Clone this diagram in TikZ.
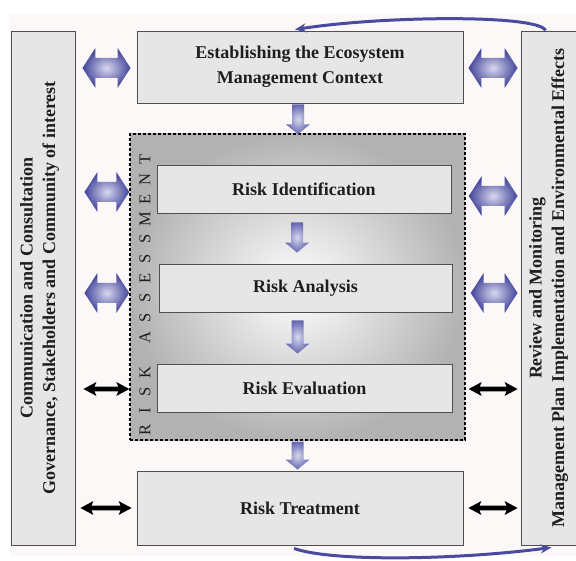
\documentclass[tikz,border=0pt]{standalone}
\usepackage{fontspec}
\setmainfont{Liberation Serif}
\usetikzlibrary{calc,arrows.meta}
\definecolor{boxfill}{HTML}{E6E6E6}
\definecolor{boxline}{HTML}{505050}
\definecolor{pdark}{HTML}{42449A}
\definecolor{plight}{HTML}{D8D8EE}
\definecolor{pmid}{HTML}{6466B0}
\definecolor{pcurve}{HTML}{4A4AA0}
\definecolor{bg}{HTML}{FCF8F8}
\definecolor{txt}{HTML}{1E1E1E}
\tikzset{
  box/.style={draw=boxline, line width=0.9pt, fill=boxfill, text=txt, font=\fontsize{18}{25}\selectfont\bfseries, align=center, inner sep=0pt},
  sidetext/.style={rotate=90, align=center, text=txt, font=\fontsize{18}{22.5}\selectfont\bfseries},
  fatshade/.style={shading=radial, inner color=plight, outer color=pdark},
  downshade/.style={shading=radial, inner color=plight, outer color=pmid},
  blackfill/.style={fill=black},
  curvearrow/.style={-{Stealth[length=11pt,width=9pt]}, line width=3pt, pcurve},
  letter/.style={rotate=90, font=\fontsize{16.5}{16.5}\selectfont, text=txt, inner sep=0pt}
}
\newcommand\fatH[2]{%
  \path[fatshade] let \p1=#1, \p2=#2 in
   (\x1,\y1) -- (\x1+13pt,\y1+20pt) -- (\x1+13pt,\y1+10pt) -- (\x2-13pt,\y1+10pt) -- (\x2-13pt,\y1+20pt)
   -- (\x2,\y1) -- (\x2-13pt,\y1-20pt) -- (\x2-13pt,\y1-10pt) -- (\x1+13pt,\y1-10pt) -- (\x1+13pt,\y1-20pt) -- cycle;}
\newcommand\thinH[2]{%
  \path[blackfill] let \p1=#1, \p2=#2 in
   (\x1,\y1) -- (\x1+13pt,\y1+7pt) -- (\x1+11pt,\y1+2.3pt) -- (\x2-11pt,\y1+2.3pt) -- (\x2-13pt,\y1+7pt)
   -- (\x2,\y1) -- (\x2-13pt,\y1-7pt) -- (\x2-11pt,\y1-2.3pt) -- (\x1+11pt,\y1-2.3pt) -- (\x1+13pt,\y1-7pt) -- cycle;}
\newcommand\fatV[2]{%
  \path[downshade] let \p1=#1, \p2=#2 in
   (\x1-6pt,\y1) -- (\x1+6pt,\y1) -- (\x1+6pt,\y2+10pt) -- (\x1+12pt,\y2+10pt) -- (\x1,\y2)
   -- (\x1-12pt,\y2+10pt) -- (\x1-6pt,\y2+10pt) -- cycle;}
\begin{document}
\begin{tikzpicture}[x=1pt,y=-1pt]
\useasboundingbox (0,0) rectangle (576,561);
\fill[bg] (10,14) rectangle (576,556);

% side boxes
\node[box, minimum width=64pt, minimum height=514pt] (L) at (43,288) {};
\node[box, minimum width=55pt, minimum height=514pt] (R) at (548.5,288) {};
\node[sidetext] (Ltxt) at (39.5,288)
  {Communication and Consultation\\Governance, Stakeholders and Community of interest};
\node[sidetext] (Rtxt) at (548.5,288)
  {Review and Monitoring\\Management Plan Implementation and Environmental Effects};

% top box
\node[box, minimum width=326pt, minimum height=72pt] (T) at (300,67) {Establishing the Ecosystem\\Management Context};

% risk assessment area
\node[draw=black, dashed, dash pattern=on 3pt off 2pt, line width=1.4pt, shading=radial, inner color=white, outer color=black!30,
      minimum width=335pt, minimum height=306pt] (A) at (297.5,287) {};
\foreach \l/\yy [count=\i] in {R/430,I/411,S/392,K/373,A/338,S/318.2,S/298.4,E/278.6,S/258.8,S/239,M/219.2,E/199.4,N/179.6,T/159.8}
  \node[letter] (ra\i) at (145,\yy) {\l};

\node[box, minimum width=294pt, minimum height=48pt] (RI) at (304,189) {Risk Identification};
\node[box, minimum width=293pt, minimum height=48pt] (RA) at (305.5,288) {Risk Analysis};
\node[box, minimum width=295pt, minimum height=48pt] (RE) at (304.5,388) {Risk Evaluation};

% treatment
\node[box, minimum width=326pt, minimum height=74pt] (RT) at (300,508) {Risk Treatment};

% vertical flow arrows
\fatV{($(T.south)+(-2,1)$)}{($(A.north)+(0,1)$)}
\fatV{($(RI.south)+(-7,9)$)}{($(RA.north)+(-7,-11)$)}
\fatV{($(RA.south)+(-8,8)$)}{($(RE.north)+(-8,-10)$)}
\fatV{($(A.south)+(0,1)$)}{($(RT.north)+(0,-1)$)}

% left fat arrows
\fatH{($(L.east |- T.center)+(7,1)$)}{($(T.west |- T.center)+(-6,1)$)}
\fatH{($(L.east |- RI.center)+(9,3)$)}{($(A.west |- RI.center)+(0,3)$)}
\fatH{($(L.east |- RA.center)+(9,5)$)}{($(A.west |- RA.center)+(0,5)$)}
% right fat arrows
\fatH{($(T.east |- T.center)+(5,1)$)}{($(R.west |- T.center)+(-3,1)$)}
\fatH{($(A.east |- RI.center)+(3,7)$)}{($(R.west |- RI.center)+(-3,7)$)}
\fatH{($(A.east |- RA.center)+(5,5)$)}{($(R.west |- RA.center)+(-3,5)$)}

% black arrows
\thinH{($(L.east |- RE.center)+(8,1)$)}{($(A.west |- RE.center)+(0,1)$)}
\thinH{($(A.east |- RE.center)+(3,1)$)}{($(R.west |- RE.center)+(-3,1)$)}
\thinH{($(L.east |- RT.center)+(5,0)$)}{($(RT.west)+(-5,0)$)}
\thinH{($(RT.east)+(5,0)$)}{($(R.west |- RT.center)+(-3,0)$)}

% feedback curves
\draw[curvearrow] ($(R.north)+(-3,0)$) .. controls +(-6,-16) and +(90,-14) .. ($(T.north)+(-5,-1)$);
\draw[curvearrow] ($(RT.south)+(-6,3)$) .. controls +(40,14) and +(-90,12) .. ($(R.south)+(3,2)$);
\end{tikzpicture}
\end{document}
